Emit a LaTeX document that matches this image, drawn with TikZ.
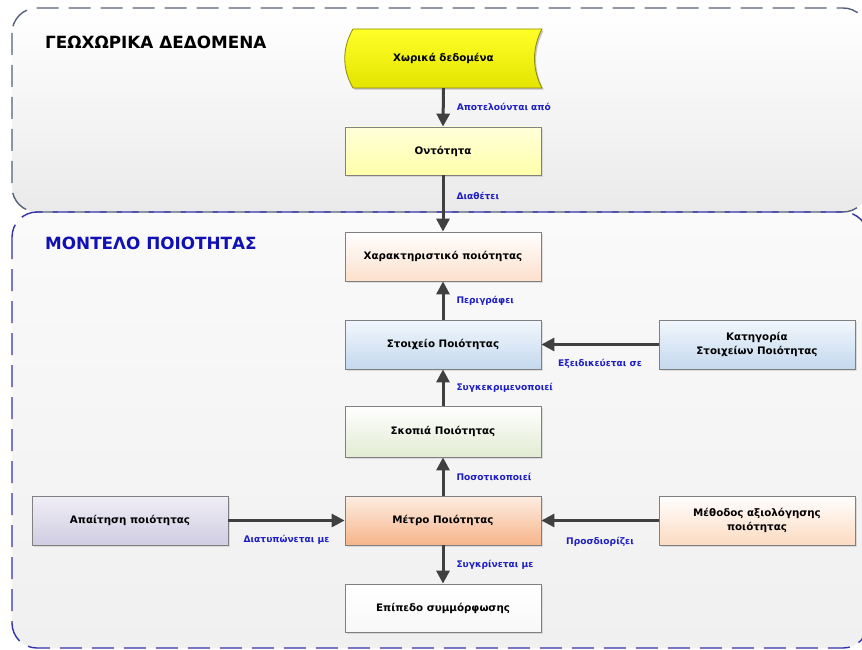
\documentclass[tikz,border=0pt]{standalone}
\usepackage{fontspec}
\setmainfont{DejaVu Sans}[BoldFont={DejaVu Sans Bold}]
\usetikzlibrary{arrows.meta,shadows}

\definecolor{boxedge}{RGB}{128,128,128}
\definecolor{arrowgray}{RGB}{64,64,64}
\definecolor{lblblue}{RGB}{30,30,200}
\definecolor{headblue}{RGB}{16,16,180}
\definecolor{frametop}{RGB}{86,96,122}
\definecolor{framebot}{RGB}{50,50,170}

\begin{document}
\begin{tikzpicture}[x=1pt,y=-1pt,
  box/.style={draw=boxedge, line width=0.8pt, minimum width=196pt,
    minimum height=49pt, align=center, inner sep=2pt,
    font=\bfseries\fontsize{10.3}{14}\selectfont, text=black,
    drop shadow={shadow xshift=1.6pt, shadow yshift=-1.6pt, opacity=0.22}},
  link/.style={draw=arrowgray, line width=3pt,
    -{Triangle[length=13pt,width=13pt]}},
  lbl/.style={text=lblblue, inner sep=0pt,
    font=\bfseries\fontsize{9.1}{11}\selectfont},
  vlbl/.style={lbl, anchor=west, xshift=12pt},
  hlbl/.style={lbl, anchor=center, yshift=-19pt},
  frame/.style={dash pattern=on 22pt off 10pt, line width=1.4pt,
    rounded corners=25pt},
  head/.style={anchor=west, inner sep=0pt,
    font=\bfseries\fontsize{16.8}{20}\selectfont}]

\useasboundingbox (0,0) rectangle (862,650);
\clip (0,0) rectangle (862,650);

% the two dashed frames
\path[shade, top color=white, bottom color={rgb,255:red,234;green,234;blue,234},
  rounded corners=25pt] (12,8) rectangle (868,212);
\path[shade, top color={rgb,255:red,250;green,250;blue,250},
  bottom color={rgb,255:red,240;green,240;blue,240},
  rounded corners=25pt] (12,212) rectangle (868,648);
\draw[frame, draw=frametop] (12,8) rectangle (868,212);
\draw[frame, draw=framebot] (12,212) rectangle (868,648);

\node[head, text=black] (geohead) at (45,42) {ΓΕΩΧΩΡΙΚΑ ΔΕΔΟΜΕΝΑ};
\node[head, text=headblue] (qualhead) at (45,243) {ΜΟΝΤΕΛΟ ΠΟΙΟΤΗΤΑΣ};

% stored-data shape
\fill[black, opacity=0.22, shift={(1.6,1.6)}]
  (353,29) -- (542,29) .. controls (532,48) and (532,69) .. (542,88)
  -- (353,88) .. controls (342,69) and (342,48) .. (353,29) -- cycle;
\path[draw={rgb,255:red,140;green,140;blue,0}, line width=0.8pt,
  shade, top color={rgb,255:red,255;green,255;blue,40},
  bottom color={rgb,255:red,228;green,228;blue,0}]
  (353,29) -- (542,29) .. controls (532,48) and (532,69) .. (542,88)
  -- (353,88) .. controls (342,69) and (342,48) .. (353,29) -- cycle;
\node[minimum width=196pt, minimum height=59pt, inner sep=0pt,
  font=\bfseries\fontsize{10.3}{14}\selectfont] (data) at (443.5,58.5) {Χωρικά δεδομένα};

% boxes
\node[box, minimum height=48pt, top color={rgb,255:red,255;green,255;blue,218},
  bottom color={rgb,255:red,255;green,255;blue,170}] (entity) at (443,151) {Οντότητα};
\node[box, top color=white, bottom color={rgb,255:red,252;green,224;blue,204}]
  (charac) at (443,256.5) {Χαρακτηριστικό ποιότητας};
\node[box, top color={rgb,255:red,242;green,247;blue,252},
  bottom color={rgb,255:red,196;green,216;blue,238}] (elem) at (443,344.5) {Στοιχείο Ποιότητας};
\node[box, top color={rgb,255:red,242;green,247;blue,252},
  bottom color={rgb,255:red,196;green,216;blue,238}] (cat) at (757,344.5)
  {Κατηγορία\\Στοιχείων Ποιότητας};
\node[box, minimum height=51pt, top color=white,
  bottom color={rgb,255:red,226;green,235;blue,211}] (view) at (443,431.5) {Σκοπιά Ποιότητας};
\node[box, top color={rgb,255:red,253;green,238;blue,227},
  bottom color={rgb,255:red,246;green,180;blue,138}] (measure) at (443,520.5) {Μέτρο Ποιότητας};
\node[box, top color={rgb,255:red,240;green,238;blue,246},
  bottom color={rgb,255:red,208;green,204;blue,226}] (req) at (130,520.5) {Απαίτηση ποιότητας};
\node[box, top color=white, bottom color={rgb,255:red,252;green,218;blue,192}]
  (method) at (757,520.5) {Μέθοδος αξιολόγησης\\ποιότητας};
\node[box, minimum height=48pt, top color=white,
  bottom color={rgb,255:red,248;green,248;blue,248}] (level) at (443,608) {Επίπεδο συμμόρφωσης};

% relations
\draw[link] (data.south) -- node[vlbl] {Αποτελούνται από} (entity.north);
\draw[link] (entity.south) -- node[vlbl, pos=0.37] {Διαθέτει} (charac.north);
\draw[link] (elem.north) -- node[vlbl] {Περιγράφει} (charac.south);
\draw[link] (cat.west) -- node[hlbl] {Εξειδικεύεται σε} (elem.east);
\draw[link] (view.north) -- node[vlbl] {Συγκεκριμενοποιεί} (elem.south);
\draw[link] (measure.north) -- node[vlbl] {Ποσοτικοποιεί} (view.south);
\draw[link] (req.east) -- node[hlbl] {Διατυπώνεται με} (measure.west);
\draw[link] (method.west) -- node[hlbl, yshift=-2pt] {Προσδιορίζει} (measure.east);
\draw[link] (measure.south) -- node[vlbl] {Συγκρίνεται με} (level.north);

\end{tikzpicture}
\end{document}
